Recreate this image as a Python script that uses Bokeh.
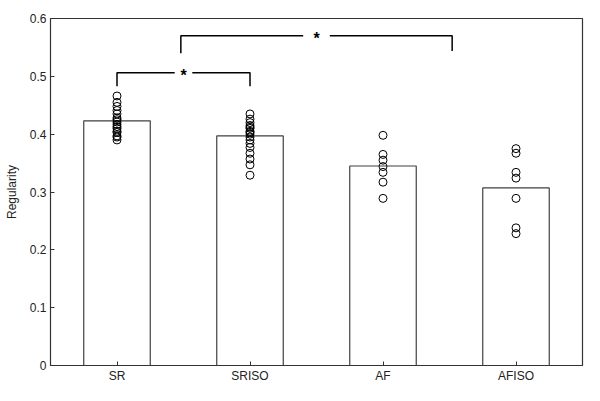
from bokeh.plotting import figure
from bokeh.models import FixedTicker, CustomJSTickFormatter, Range1d
from bokeh.core.properties import value
from bokeh.embed import file_html
from bokeh.resources import INLINE

categories = ["SR", "SRISO", "AF", "AFISO"]
bar_means = [0.423, 0.397, 0.345, 0.307]
sr_points = [0.466, 0.455, 0.448, 0.441, 0.435, 0.428, 0.425, 0.421, 0.417, 0.413,
             0.410, 0.405, 0.403, 0.397, 0.395, 0.390]
sriso_points = [0.435, 0.426, 0.420, 0.415, 0.412, 0.410, 0.405, 0.403, 0.400, 0.395,
                0.390, 0.384, 0.377, 0.367, 0.357, 0.347, 0.329]
af_points = [0.398, 0.365, 0.355, 0.344, 0.334, 0.317, 0.289]
afiso_points = [0.375, 0.367, 0.334, 0.324, 0.289, 0.238, 0.228]
y_ticks = [0, 0.1, 0.2, 0.3, 0.4, 0.5, 0.6]
# significance brackets: (x start, x end, bar height, left drop end, right drop end, label)
brackets = [
    (1.0, 2.0, 0.506, 0.483, 0.483, "*"),
    (1.48, 3.52, 0.570, 0.540, 0.544, "*"),
]

FONT = "Liberation Sans"
AXC = "#333333"

p = figure(width=584, height=385, output_backend="svg", toolbar_location=None,
           x_range=Range1d(0.5, 4.5), y_range=Range1d(0, 0.6),
           min_border_left=50, min_border_right=2, min_border_top=18, min_border_bottom=10)
p.xgrid.visible = False
p.ygrid.visible = False
p.outline_line_color = AXC
p.outline_line_width = 1.2
p.background_fill_color = "white"
p.border_fill_color = "white"

xs = list(range(1, len(categories) + 1))
p.vbar(x=xs, top=bar_means, bottom=0, width=0.5, fill_color="white",
       line_color="#404040", line_width=1.2)

groups = [sr_points, sriso_points, af_points, afiso_points]
px, py = [], []
for i, g in enumerate(groups):
    for v in g:
        px.append(xs[i])
        py.append(v)
p.scatter(px, py, marker="circle", size=8, fill_color=None, line_color="black", line_width=1)

gaps = [0.066, 0.10]
for (x0, x1, yb, yl, yr, lab), gap in zip(brackets, gaps):
    xm = (x0 + x1) / 2
    p.line([x0, x0, xm - gap], [yl, yb, yb], line_color="black", line_width=1.5)
    p.line([xm + gap, x1, x1], [yb, yb, yr], line_color="black", line_width=1.5)
    p.text(x=[xm], y=[yb - 0.004], text=[lab], text_align="center", text_baseline="middle",
           text_font=value(FONT), text_font_size="16px", text_font_style="bold",
           text_color="black")

p.xaxis.ticker = FixedTicker(ticks=xs)
p.xaxis.major_label_overrides = {x: c for x, c in zip(xs, categories)}
p.yaxis.ticker = FixedTicker(ticks=y_ticks)
p.yaxis.formatter = CustomJSTickFormatter(code="return tick === 0 ? '0' : tick.toFixed(1);")
p.yaxis.axis_label = "Regularity"

for ax in (p.xaxis, p.yaxis):
    ax.axis_line_color = AXC
    ax.major_tick_line_color = AXC
    ax.major_tick_in = 4
    ax.major_tick_out = 0
    ax.minor_tick_line_color = None
    ax.major_label_text_font = FONT
    ax.major_label_text_font_size = "12px"
    ax.major_label_text_color = "#222222"
    ax.axis_label_text_font = FONT
    ax.axis_label_text_font_size = "12px"
    ax.axis_label_text_font_style = "normal"
    ax.axis_label_text_color = "#222222"
p.xaxis.major_label_standoff = 3
p.yaxis.major_label_standoff = 4
p.yaxis.axis_label_standoff = 8

open("out.html", "w").write(file_html(p, INLINE))
